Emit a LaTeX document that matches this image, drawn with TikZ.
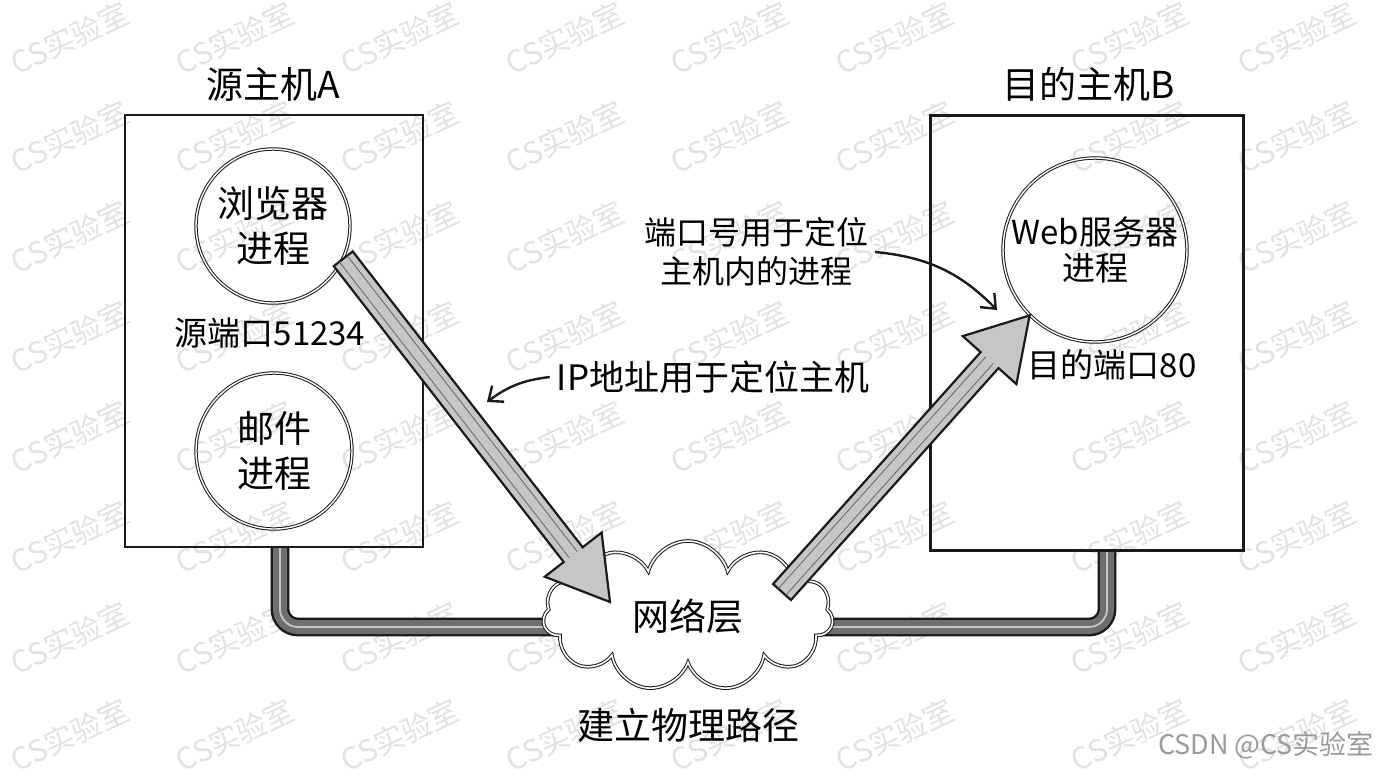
\documentclass[tikz,border=0pt]{standalone}
\usepackage{fontspec}
\setmainfont{Noto Sans CJK SC}
\usepackage{tikz}
\usetikzlibrary{arrows.meta,positioning,shapes.symbols,calc}
\definecolor{ink}{HTML}{1A1A1A}
\definecolor{pencil}{HTML}{6E6E6E}
\definecolor{wmgray}{HTML}{E2E2E2}
\definecolor{creditgray}{HTML}{9A9A9A}
\pgfdeclarelayer{background}
\pgfsetlayers{background,main}
\tikzset{
  hostbox/.style={draw=ink,line width=1.1pt,inner sep=0pt},
  proc/.style={circle,draw=ink,line width=0.5pt,double=white,double distance=0.7pt,
               align=center,inner sep=0pt,font=\fontsize{18.5}{22.5}\selectfont},
  title/.style={font=\fontsize{18.5}{22}\selectfont},
  portlabel/.style={font=\fontsize{16.5}{20}\selectfont},
  note/.style={align=center,font=\fontsize{16}{19.5}\selectfont},
  netcloud/.style={cloud,cloud puffs=11,aspect=2,draw=ink,line width=0.5pt,
                   double=white,double distance=0.8pt,fill=white,
                   minimum width=145pt,minimum height=75pt,
                   font=\fontsize{18.5}{22}\selectfont},
  cable/.style={draw=ink,line width=1.2pt,double=pencil,double distance=7pt,rounded corners=9pt},
  cablecore/.style={draw=gray!45,line width=0.9pt,rounded corners=9pt},
  fatarrow/.style={draw=ink,line width=1.1pt,fill=gray!45,line join=miter},
  hatch/.style={draw=gray!80!black,line width=0.4pt},
  pointer/.style={-{Straight Barb[length=6pt,width=10pt]},line width=1.2pt,draw=ink},
  watermark/.style={text=wmgray,rotate=25,font=\fontsize{15}{15}\selectfont},
  credit/.style={text=creditgray,font=\fontsize{13.5}{15}\selectfont}
}
% fat sketch arrow from #1 to #2
\newcommand{\fatarrow}[2]{%
  \coordinate (fa-s) at (#1);
  \coordinate (fa-t) at (#2);
  \coordinate (fa-b) at ($(fa-t)!30pt!(fa-s)$);
  \draw[fatarrow] ($(fa-s)!6pt!90:(fa-t)$) -- ($(fa-b)!6pt!90:(fa-t)$)
    -- ($(fa-b)!18pt!90:(fa-t)$) -- (fa-t) -- ($(fa-b)!18pt!-90:(fa-t)$)
    -- ($(fa-b)!6pt!-90:(fa-t)$) -- ($(fa-s)!6pt!-90:(fa-t)$) -- cycle;
  \draw[hatch] ($(fa-s)!2.5pt!90:(fa-t)$) -- ($(fa-b)!2.5pt!90:(fa-t)$);
  \draw[hatch] ($(fa-s)!2.5pt!-90:(fa-t)$) -- ($(fa-b)!2.5pt!-90:(fa-t)$);
}

\begin{document}
\begin{tikzpicture}[x=0.5pt,y=-0.5pt]
  \useasboundingbox (0,0) rectangle (1376,768);

  % hosts
  \node[hostbox,minimum width=149pt,minimum height=216pt] (hostA) at (274,331) {};
  \node[hostbox,minimum width=156.5pt,minimum height=217.5pt] (hostB) at (1087,333) {};
  \node[title] (titleA) at (273,84) {源主机A};
  \node[title] (titleB) at (1089,84) {目的主机B};

  \node[proc,minimum size=77pt] (browser) at (273,226) {浏览器\\进程};
  \node[proc,minimum size=78pt] (mail) at (274,451) {邮件\\进程};
  \node[proc,minimum size=92pt,font=\fontsize{16.5}{18}\selectfont] (web) at (1095,250) {Web服务器\\进程};
  \node[portlabel] (srcport) at (270,333) {源端口51234};
  \node[portlabel] (dstport) at (1112,365) {目的端口80};

  % network
  \node[netcloud] (cloud) at (688,616) {网络层};
  \node[title] (netpath) at (688,725) {建立物理路径};
  \coordinate (cabA) at ([xshift=3pt]hostA.south);
  \coordinate (cabB) at ([xshift=10pt]hostB.south);

  \begin{pgfonlayer}{background}
    \foreach \wx in {70,235,400,565,730,895,1130,1297}
      \foreach \wy in {38,137,237,337,437,537,638,735}
        \node[watermark] (wm-\wx-\wy) at (\wx,\wy) {CS实验室};
    \draw[cable] (cabA) |- ([yshift=-5.5pt]cloud.center);
    \draw[cable] ([yshift=-5.5pt]cloud.center) -| (cabB);
    \draw[cablecore] (cabA) |- ([yshift=-5.5pt]cloud.center);
    \draw[cablecore] ([yshift=-5.5pt]cloud.center) -| (cabB);
  \end{pgfonlayer}

  \coordinate (tipA) at ([shift={(-39pt,7pt)}]cloud.center);
  \coordinate (tailB) at ([shift={(47pt,12pt)}]cloud.center);
  \fatarrow{browser.-25}{tipA}
  \fatarrow{tailB}{web.-135}

  % notes
  \node[note,font=\fontsize{17.5}{21}\selectfont] (ipnote) at (713,377) {IP地址用于定位主机};
  \node[note] (portnote) at (756,252) {端口号用于定位\\主机内的进程};
  \coordinate (ipaim) at (487,402);
  \coordinate (portaim) at (997,310);
  \draw[pointer] (ipnote.west) to[bend right=15] (ipaim);
  \draw[pointer] (portnote.east) to[bend left=20] (portaim);

  \node[credit] (credit) at (1266,745) {CSDN @CS实验室};
\end{tikzpicture}
\end{document}
